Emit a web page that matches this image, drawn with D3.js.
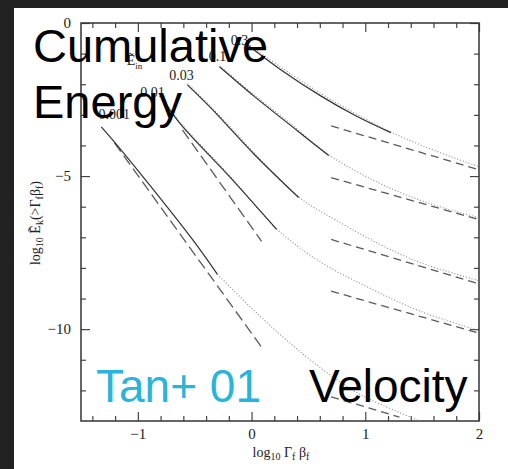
<!DOCTYPE html>
<html>
<head>
<meta charset="utf-8">
<script src="https://cdn.jsdelivr.net/npm/d3@7"></script>
<style>
  html, body { margin: 0; padding: 0; background: #ffffff; }
  svg { display: block; }
</style>
</head>
<body>
<svg id="chart" width="508" height="469"></svg>
<script>
// Cumulative kinetic energy above a given velocity, log10 E_k(>Γβ) vs log10 Γβ,
// for several injected energies E_in.

const energyLabels = ["0.001", "0.01", "0.03", "0.1", "0.3"];

// Simulation results (solid), [log10 Γβ, log10 E_k]
const sim001 = [[-1.322, -3.39], [-1.207, -3.88], [-0.899, -5.28], [-0.520, -7.07], [-0.300, -8.21]];
const sim01  = [[-0.784, -2.48], [-0.634, -3.26], [-0.194, -5.02], [0.220, -6.74]];
const sim03  = [[-0.564, -2.02], [-0.344, -2.83], [0.018, -4.27], [0.414, -5.70]];
const sim1   = [[-0.282, -1.43], [0.018, -2.38], [0.335, -3.32], [0.678, -4.33]];
const sim3   = [[-0.035, -0.72], [0.247, -1.50], [0.608, -2.38], [0.916, -3.03], [1.225, -3.58]];

// Analytic fits (dotted)
const fit001 = [[-0.300, -8.21], [-0.018, -9.25], [0.247, -10.16], [0.485, -10.91], [0.714, -11.56], [0.978, -12.18], [1.48, -13.0]];
const fit01  = [[-0.784, -2.44], [-0.634, -3.22], [-0.194, -4.98], [0.220, -6.72], [0.599, -7.79], [1.04, -8.66], [1.48, -9.41], [2.0, -10.05]];
const fit03  = [[-0.564, -1.98], [-0.344, -2.78], [0.018, -4.22], [0.414, -5.68], [0.775, -6.51], [1.128, -7.23], [1.48, -7.82], [2.0, -8.42]];
const fit1   = [[-0.282, -1.40], [0.018, -2.33], [0.335, -3.26], [0.678, -4.30], [1.128, -5.24], [1.568, -5.90], [2.0, -6.36]];
const fit3   = [[-0.035, -0.68], [0.247, -1.42], [0.608, -2.30], [0.916, -2.96], [1.225, -3.56], [1.612, -4.17], [2.0, -4.69]];

// Power-law asymptotes (dashed)
const relAsym001 = [[0.70, -12.21], [1.30, -12.87]];
const relAsym01  = [[0.70, -8.76], [1.98, -10.11]];
const relAsym03  = [[0.70, -7.07], [1.98, -8.50]];
const relAsym1   = [[0.70, -5.05], [1.98, -6.40]];
const relAsym3   = [[0.70, -3.36], [1.98, -4.77]];
const nonrelAsym001 = [[-1.207, -3.91], [0.088, -10.59]];
const nonrelAsym01  = [[-0.608, -3.49], [0.088, -7.13]];

// Curve label anchors, [log10 Γβ, log10 E_k]
const labelPos = [[-1.207, -2.96], [-0.872, -2.25], [-0.617, -1.69], [-0.30, -1.07], [-0.106, -0.55]];
const eInPos = [-1.03, -1.2];

// Axis ticks
const xMajor = [-1, 0, 1, 2];
const xMinor = [-1.4, -1.2, -0.8, -0.6, -0.4, -0.2, 0.2, 0.4, 0.6, 0.8, 1.2, 1.4, 1.6, 1.8];
const yMajor = [0, -5, -10];
const yMinor = [-1, -2, -3, -4, -6, -7, -8, -9, -11, -12];

const svg = d3.select("#chart");
const W = 508, H = 469;
const L = 81, R = 479, T = 23, B = 421;

// page background with dark margin strips
svg.append("rect").attr("x", 0).attr("y", 0).attr("width", W).attr("height", H).attr("fill", "#ffffff");
svg.append("rect").attr("x", 0).attr("y", 0).attr("width", W).attr("height", 8).attr("fill", "#222222");
svg.append("rect").attr("x", 0).attr("y", 0).attr("width", 14).attr("height", H).attr("fill", "#222222");

const x = d3.scaleLinear().domain([-1.5, 2]).range([L, R]);
const y = d3.scaleLinear().domain([-13, 0]).range([B, T]);

const serif = "'Liberation Serif', 'DejaVu Serif', serif";
const minusFmt = d => (d < 0 ? "\u2212" + Math.abs(d) : String(d));

function styleAxis(g) {
  g.select(".domain").remove();
  g.selectAll(".tick line").attr("stroke", "#444").attr("stroke-width", 1.2);
  g.selectAll(".tick text").attr("fill", "#222").attr("font-family", serif).attr("font-size", 15);
}

// bottom
svg.append("g").attr("transform", `translate(0,${B})`)
  .call(d3.axisBottom(x).tickValues(xMajor).tickSize(-9).tickPadding(7).tickFormat(minusFmt)).call(styleAxis);
svg.append("g").attr("transform", `translate(0,${B})`)
  .call(d3.axisBottom(x).tickValues(xMinor).tickSize(-5).tickFormat("")).call(styleAxis);
// top
svg.append("g").attr("transform", `translate(0,${T})`)
  .call(d3.axisTop(x).tickValues(xMajor).tickSize(-9).tickFormat("")).call(styleAxis);
svg.append("g").attr("transform", `translate(0,${T})`)
  .call(d3.axisTop(x).tickValues(xMinor).tickSize(-5).tickFormat("")).call(styleAxis);
// left
svg.append("g").attr("transform", `translate(${L},0)`)
  .call(d3.axisLeft(y).tickValues(yMajor).tickSize(-9).tickPadding(10).tickFormat(minusFmt)).call(styleAxis);
svg.append("g").attr("transform", `translate(${L},0)`)
  .call(d3.axisLeft(y).tickValues(yMinor).tickSize(-5).tickFormat("")).call(styleAxis);
// right
svg.append("g").attr("transform", `translate(${R},0)`)
  .call(d3.axisRight(y).tickValues(yMajor).tickSize(-9).tickFormat("")).call(styleAxis);
svg.append("g").attr("transform", `translate(${R},0)`)
  .call(d3.axisRight(y).tickValues(yMinor).tickSize(-5).tickFormat("")).call(styleAxis);

// frame
svg.append("rect").attr("x", L).attr("y", T).attr("width", R - L).attr("height", B - T)
  .attr("fill", "none").attr("stroke", "#333").attr("stroke-width", 1.5);

// curves, clipped to the frame
svg.append("clipPath").attr("id", "plotclip")
  .append("rect").attr("x", L).attr("y", T).attr("width", R - L).attr("height", B - T);
const plot = svg.append("g").attr("clip-path", "url(#plotclip)");

const line = d3.line().x(d => x(d[0])).y(d => y(d[1])).curve(d3.curveCatmullRom.alpha(0.5));
const straight = d3.line().x(d => x(d[0])).y(d => y(d[1]));

[fit001, fit01, fit03, fit1, fit3].forEach(s => {
  plot.append("path").attr("d", line(s)).attr("fill", "none")
    .attr("stroke", "#888").attr("stroke-width", 1.1).attr("stroke-dasharray", "1,2");
});
[relAsym001, relAsym01, relAsym03, relAsym1, relAsym3].forEach(s => {
  plot.append("path").attr("d", straight(s)).attr("fill", "none")
    .attr("stroke", "#5a5a5a").attr("stroke-width", 1.3).attr("stroke-dasharray", "8,5");
});
[nonrelAsym001, nonrelAsym01].forEach(s => {
  plot.append("path").attr("d", straight(s)).attr("fill", "none")
    .attr("stroke", "#5a5a5a").attr("stroke-width", 1.3).attr("stroke-dasharray", "11,5");
});
[sim001, sim01, sim03, sim1, sim3].forEach(s => {
  plot.append("path").attr("d", line(s)).attr("fill", "none")
    .attr("stroke", "#333").attr("stroke-width", 1.2);
});

// E_in values
energyLabels.forEach((t, i) => {
  svg.append("text").attr("x", x(labelPos[i][0])).attr("y", y(labelPos[i][1]))
    .attr("text-anchor", "middle").attr("dy", "0.35em")
    .attr("font-family", serif).attr("font-size", 14).attr("fill", "#222").text(t);
});
const ein = svg.append("text").attr("x", x(eInPos[0])).attr("y", y(eInPos[1]))
  .attr("text-anchor", "middle").attr("dy", "0.35em")
  .attr("font-family", serif).attr("font-size", 14).attr("fill", "#222");
ein.append("tspan").text("\u1EBC");
ein.append("tspan").attr("font-size", 9).attr("dy", 4).text("in");

// axis titles
const xt = svg.append("text").attr("x", 281).attr("y", 457).attr("text-anchor", "middle")
  .attr("font-family", serif).attr("font-size", 14).attr("fill", "#222");
xt.append("tspan").text("log");
xt.append("tspan").attr("font-size", 10).attr("dy", 3).text("10");
xt.append("tspan").attr("dy", -3).text(" \u0393");
xt.append("tspan").attr("font-size", 10).attr("dy", 3).text("f");
xt.append("tspan").attr("dy", -3).text(" \u03B2");
xt.append("tspan").attr("font-size", 10).attr("dy", 3).text("f");

const yt = svg.append("text").attr("transform", "translate(40,223) rotate(-90)").attr("text-anchor", "middle")
  .attr("font-family", serif).attr("font-size", 14).attr("fill", "#222");
yt.append("tspan").text("log");
yt.append("tspan").attr("font-size", 10).attr("dy", 3).text("10");
yt.append("tspan").attr("dy", -3).text(" \u1EBC");
yt.append("tspan").attr("font-size", 10).attr("dy", 3).text("k");
yt.append("tspan").attr("dy", -3).text("(>\u0393");
yt.append("tspan").attr("font-size", 10).attr("dy", 3).text("f");
yt.append("tspan").attr("dy", -3).text("\u03B2");
yt.append("tspan").attr("font-size", 10).attr("dy", 3).text("f");
yt.append("tspan").attr("dy", -3).text(")");

// overlay annotations
const sans = "'Liberation Sans', Arial, sans-serif";
svg.append("text").attr("x", 33).attr("y", 62).attr("font-family", sans).attr("font-size", 47).attr("fill", "#000").text("Cumulative");
svg.append("text").attr("x", 33).attr("y", 118).attr("font-family", sans).attr("font-size", 47).attr("fill", "#000").text("Energy");
svg.append("text").attr("x", 96).attr("y", 402).attr("font-family", sans).attr("font-size", 46).attr("fill", "#29b5d9").text("Tan+ 01");
svg.append("text").attr("x", 309).attr("y", 402).attr("font-family", sans).attr("font-size", 46).attr("fill", "#000").text("Velocity");
</script>
</body>
</html>
